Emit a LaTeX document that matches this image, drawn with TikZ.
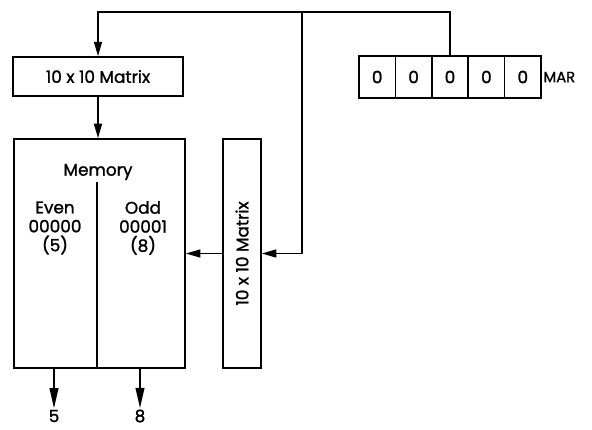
\documentclass[tikz,border=0pt]{standalone}
\usepackage{fontspec}
\setmainfont{Poppins}
\newfontfamily\diagfont{Poppins}[FakeBold=1.4]
\usetikzlibrary{positioning,arrows.meta,calc}

\begin{document}
\begin{tikzpicture}[
  x=0.025cm, y=-0.025cm,
  box/.style={rectangle, draw, line width=1.2pt, align=center, font=\diagfont\fontsize{12}{13.5}\selectfont, inner sep=2pt},
  cell/.style={box, minimum width=0.91cm, minimum height=1.05cm},
  arrow/.style={-{Triangle[length=3.6mm, width=2mm]}, line width=1pt},
  outarrow/.style={-{Triangle[length=5mm, width=2.2mm]}, line width=1pt},
  label/.style={font=\diagfont\fontsize{12}{13.5}\selectfont, align=center, inner sep=1pt},
]
\useasboundingbox (0,0) rectangle (592,429);

% === MATRICES AND MEMORY ===
\node[box, minimum width=4.25cm, minimum height=0.975cm] (mtop) at (98,76.5) {10 x 10 Matrix};
\node[box, minimum width=4.275cm, minimum height=5.725cm] (mem) at (99.5,253.5) {};
\node[box, minimum width=0.95cm, minimum height=5.725cm] (mvert) at (242,253.5) {};
\node[label, rotate=90] (mvtext) at (mvert.center) {10 x 10 Matrix};

\node[label] (memlbl) at (98,172) {Memory};
\node[label] (even) at (55,228) {Even\\00000\\(5)};
\node[label] (odd) at (143,228) {Odd\\00001\\(8)};
\coordinate (split) at (97,182);
\draw[line width=1.2pt] (split) -- (split |- mem.south);

% === MAR ===
\foreach \i/\x in {1/377.2, 2/413.6, 3/450, 4/486.4, 5/522.8}
  \node[cell] (mar\i) at (\x,77) {0};
\node[label, font=\diagfont\fontsize{10.5}{12}\selectfont, anchor=west] (marlbl) at (mar5.east) {MAR};

% === OUTPUTS ===
\node[label] (o5) at (54,416) {5};
\node[label] (o8) at (140,416) {8};

% === WIRES ===
\coordinate (bus) at (302,12);
\draw[line width=1pt] (mar3.north) |- (bus);
\draw[arrow] (bus) -| (mtop.north);
\draw[arrow] (bus) |- (mvert.east);
\draw[arrow] (mtop.south) -- (mtop.south |- mem.north);
\draw[arrow] (mvert.west) -- (mem.east);
\draw[outarrow] (mem.south -| o5) -- (o5.north);
\draw[outarrow] (mem.south -| o8) -- (o8.north);
\end{tikzpicture}
\end{document}
